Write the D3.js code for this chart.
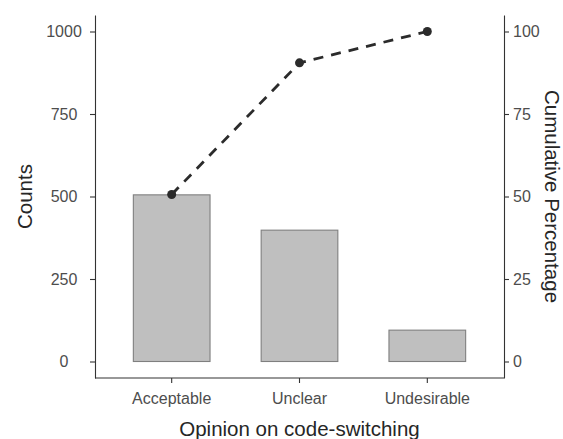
<!DOCTYPE html>
<html>
<head>
<meta charset="utf-8">
<script src="https://cdn.jsdelivr.net/npm/d3@7"></script>
<style>
  body { margin: 0; background: #fff; }
  text { font-family: "Liberation Sans", Arial, Helvetica, sans-serif; }
</style>
</head>
<body>
<svg id="chart" width="563" height="439"></svg>
<script>
const categories = ["Acceptable", "Unclear", "Undesirable"];
const counts = [505, 398, 95];
const cumPercent = [50.6, 90.5, 100];
const countTicks = [0, 250, 500, 750, 1000];
const percentTicks = [0, 25, 50, 75, 100];

const plotLeft = 95, plotRight = 504, plotTop = 15, plotBottom = 378;
const svg = d3.select("#chart");

const x = d3.scaleBand()
  .domain(categories)
  .range([plotLeft, plotRight])
  .paddingInner(0.4)
  .paddingOuter(0.3);

const yCount = d3.scaleLinear().domain([-50, 1050]).range([plotBottom, plotTop]);
const yPct = d3.scaleLinear().domain([-5, 105]).range([plotBottom, plotTop]);

// bars
svg.append("g")
  .selectAll("rect")
  .data(categories)
  .join("rect")
  .attr("x", d => x(d))
  .attr("width", x.bandwidth())
  .attr("y", (d, i) => yCount(counts[i]))
  .attr("height", (d, i) => yCount(0) - yCount(counts[i]))
  .attr("fill", "#bfbfbf")
  .attr("stroke", "#7f7f7f")
  .attr("stroke-width", 1.1);

// cumulative line
const line = d3.line()
  .x((d, i) => x(categories[i]) + x.bandwidth() / 2)
  .y(d => yPct(d));

svg.append("path")
  .datum(cumPercent)
  .attr("d", line)
  .attr("fill", "none")
  .attr("stroke", "#2b2b2b")
  .attr("stroke-width", 2.8)
  .attr("stroke-dasharray", "10,8");

svg.append("g")
  .selectAll("circle")
  .data(cumPercent)
  .join("circle")
  .attr("cx", (d, i) => x(categories[i]) + x.bandwidth() / 2)
  .attr("cy", d => yPct(d))
  .attr("r", 4.5)
  .attr("fill", "#2b2b2b");

// axes
function styleAxis(g)
{
  g.selectAll(".domain").attr("stroke", "#333").attr("stroke-width", 1.1);
  g.selectAll(".tick line").attr("stroke", "#333").attr("stroke-width", 1.1);
  g.selectAll(".tick text")
    .attr("fill", "#4d4d4d")
    .style("font-size", "16px")
    .style("font-family", "'Liberation Sans', Arial, sans-serif");
}

const leftAxis = svg.append("g")
  .attr("transform", `translate(${plotLeft},0)`)
  .call(d3.axisLeft(yCount).tickValues(countTicks).tickFormat(d3.format("d")).tickSize(5).tickSizeOuter(0))
  .call(styleAxis);
leftAxis.selectAll(".tick text")
  .attr("text-anchor", "middle")
  .attr("x", -31);

const rightAxis = svg.append("g")
  .attr("transform", `translate(${plotRight},0)`)
  .call(d3.axisRight(yPct).tickValues(percentTicks).tickFormat(d3.format("d")).tickSize(5).tickSizeOuter(0).tickPadding(4))
  .call(styleAxis);

const bottomAxis = svg.append("g")
  .attr("transform", `translate(0,${plotBottom})`)
  .call(d3.axisBottom(x).tickSize(5).tickSizeOuter(0).tickPadding(10))
  .call(styleAxis);
bottomAxis.select(".domain").attr("d", `M${plotLeft},0H${plotRight}`);

// titles
svg.append("text")
  .attr("transform", "translate(32,196.5) rotate(-90)")
  .attr("text-anchor", "middle")
  .style("font-size", "20.5px")
  .attr("fill", "#262626")
  .text("Counts");

svg.append("text")
  .attr("transform", "translate(545,196.5) rotate(90)")
  .attr("text-anchor", "middle")
  .style("font-size", "20.5px")
  .attr("fill", "#262626")
  .text("Cumulative Percentage");

svg.append("text")
  .attr("x", (plotLeft + plotRight) / 2)
  .attr("y", 436)
  .attr("text-anchor", "middle")
  .style("font-size", "20.5px")
  .attr("fill", "#262626")
  .text("Opinion on code-switching");
</script>
</body>
</html>
